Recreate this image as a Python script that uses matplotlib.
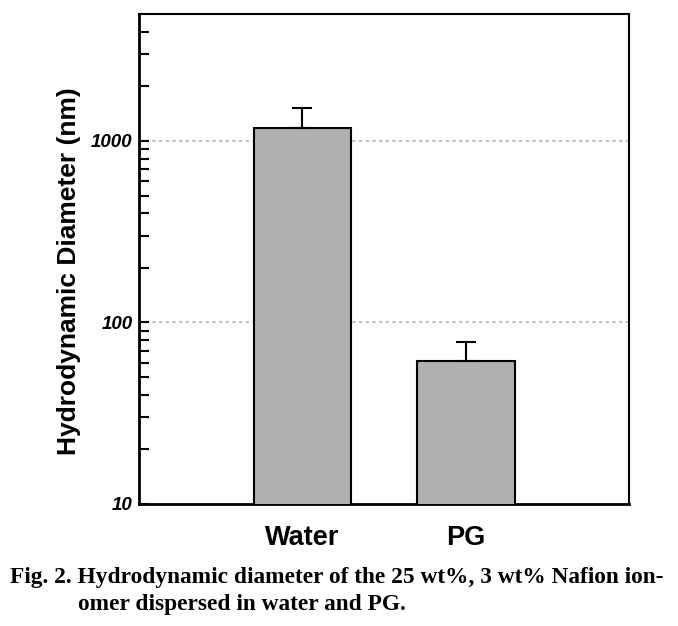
import matplotlib
matplotlib.use("Agg")
import matplotlib.pyplot as plt
from matplotlib.ticker import LogLocator, NullFormatter, FixedLocator, FixedFormatter

# data
solvents = ["Water", "PG"]
diameter = [1180, 61]       # nm
diameter_err = [340, 17]    # upper error only

plt.rcParams['font.family'] = ['Liberation Sans', 'DejaVu Sans']

fig = plt.figure(figsize=(6.78, 6.26), dpi=100)
ax = fig.add_axes([0.2055, 0.1949, 0.7218, 0.7823])

xpos = [1, 2]
ax.bar(xpos, diameter, width=0.6, color='#b0b0b0', edgecolor='black',
       linewidth=1.5, zorder=3)
ax.errorbar(xpos, diameter, yerr=[[0, 0], diameter_err], fmt='none',
            ecolor='black', elinewidth=1.5, capsize=7.5, capthick=1.5, zorder=4)

ax.set_yscale('log')
ax.set_ylim(10, 4990)
ax.set_xlim(0, 3)

ax.yaxis.set_major_locator(FixedLocator([10, 100, 1000]))
ax.yaxis.set_major_formatter(FixedFormatter(['10', '100', '1000']))
ax.yaxis.set_minor_locator(LogLocator(base=10, subs=range(2, 10)))
ax.yaxis.set_minor_formatter(NullFormatter())
ax.tick_params(axis='y', which='both', direction='in', length=7, width=1.5, pad=5)
ax.tick_params(axis='x', length=0, pad=15)
for lab in ax.get_yticklabels():
    lab.set_fontsize(13.5)
    lab.set_fontweight('bold')
    lab.set_fontstyle('italic')

ax.set_xticks(xpos)
ax.set_xticklabels(solvents, fontsize=19.5, fontweight='bold')

for y in [100, 1000]:
    ax.axhline(y, color='#b4b4b4', linestyle=(0, (2, 2)), linewidth=1.2, zorder=1)

for s in ax.spines.values():
    s.set_linewidth(1.5)
ax.spines['left'].set_linewidth(2)
ax.spines['bottom'].set_linewidth(2)

ax.set_ylabel('Hydrodynamic Diameter (nm)', fontsize=19, fontweight='bold')
ax.yaxis.set_label_coords(-0.120, 0.4755)

fig.text(10 / 678, 1 - 583 / 626,
         'Fig. 2. Hydrodynamic diameter of the 25 wt%, 3 wt% Nafion ion-',
         family='Liberation Serif', fontweight='bold', fontsize=16.8, va='baseline')
fig.text(78 / 678, 1 - 610 / 626, 'omer dispersed in water and PG.',
         family='Liberation Serif', fontweight='bold', fontsize=16.8, va='baseline')

fig.savefig('out.png', dpi=100)
